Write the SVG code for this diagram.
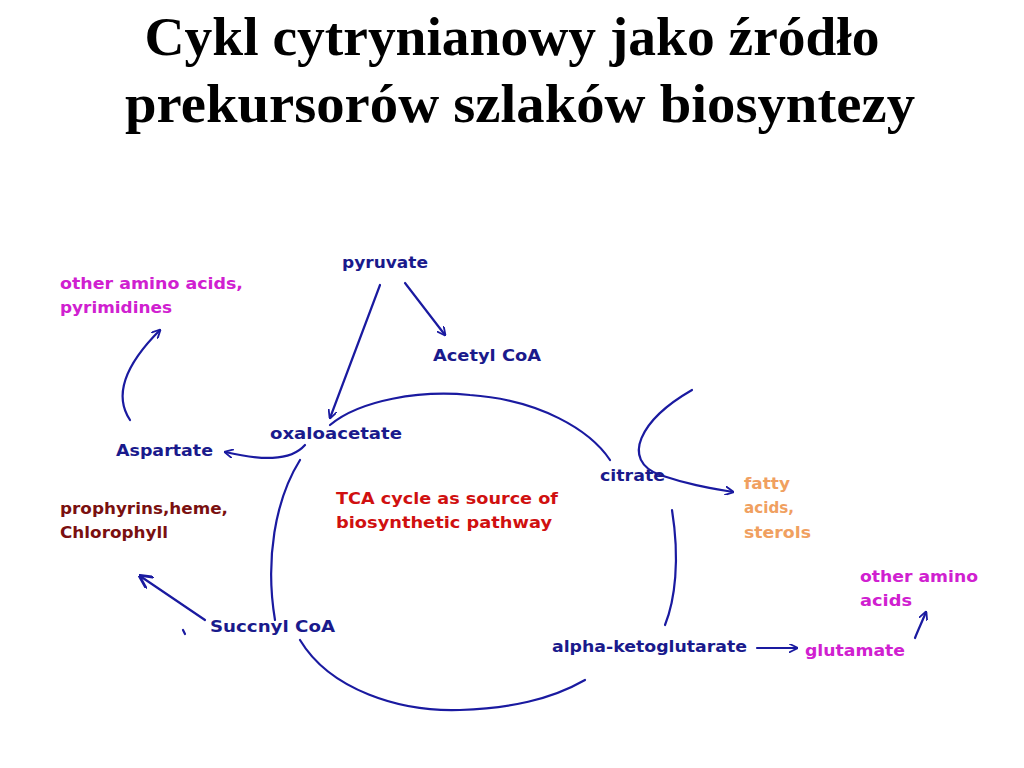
<svg xmlns="http://www.w3.org/2000/svg" width="1024" height="768" viewBox="0 0 1024 768">
<style>
.t{font-family:"Liberation Serif",serif;font-weight:bold;font-size:55px;fill:#000;text-anchor:middle}
.l{font-family:"DejaVu Sans","Liberation Sans",sans-serif;font-weight:bold;font-size:15px}
.b{fill:#1a1a8c}.m{fill:#d020d0}.r{fill:#d01010}.o{fill:#f0a060}.d{fill:#7a1010}
.c{fill:none;stroke:#1a1aa0;stroke-width:2.2;stroke-linecap:round}
</style>
<defs><marker id="a" viewBox="0 0 10 10" refX="9" refY="5" markerWidth="9" markerHeight="9" orient="auto" markerUnits="userSpaceOnUse"><path d="M0,0 L10,5 L0,10" fill="none" stroke="#1a1aa0" stroke-width="2"/></marker>
<marker id="a2" viewBox="0 0 10 10" refX="9" refY="5" markerWidth="14" markerHeight="14" orient="auto" markerUnits="userSpaceOnUse"><path d="M0,0 L10,5 L0,10" fill="none" stroke="#1a1aa0" stroke-width="2"/></marker></defs>
<rect width="1024" height="768" fill="#fff"/>
<text class="t" x="512" y="55" textLength="735" lengthAdjust="spacingAndGlyphs">Cykl cytrynianowy jako źródło</text>
<text class="t" x="520" y="122" textLength="790" lengthAdjust="spacingAndGlyphs">prekursorów szlaków biosyntezy</text>
<g id="connectors">
<path class="c" d="M330,425 C360,400 420,390 470,395 C540,400 590,430 610,460"/>
<path class="c" d="M300,460 C275,500 265,560 275,620"/>
<path class="c" d="M300,640 C330,690 400,712 460,710 C510,708 550,700 585,680"/>
<path class="c" d="M672,510 C680,560 675,600 665,625"/>
<path class="c" d="M380,285 L330,418" marker-end="url(#a)"/>
<path class="c" d="M405,283 L445,335" marker-end="url(#a)"/>
<path class="c" d="M305,445 C290,462 260,460 225,452" marker-end="url(#a)"/>
<path class="c" d="M130,420 C110,390 135,355 160,330" marker-end="url(#a)"/>
<path class="c" d="M692,390 C640,420 620,460 660,475 C690,485 710,488 733,492" marker-end="url(#a)"/>
<path class="c" d="M205,620 L140,576" marker-end="url(#a2)"/>
<path class="c" d="M183,630 L185,634"/>
<path class="c" d="M757,648 L797,648" marker-end="url(#a)"/>
<path class="c" d="M915,638 C918,630 922,622 926,612" marker-end="url(#a)"/>
</g>
<g id="pyruvate"><text class="l b" x="342" y="268" textLength="86" lengthAdjust="spacingAndGlyphs">pyruvate</text></g>
<g id="acetyl"><text class="l b" x="433" y="361" textLength="108" lengthAdjust="spacingAndGlyphs">Acetyl CoA</text></g>
<g id="other1"><text class="l m" x="60" y="289" textLength="183" lengthAdjust="spacingAndGlyphs">other amino acids,</text><text class="l m" x="60" y="313" textLength="112" lengthAdjust="spacingAndGlyphs">pyrimidines</text></g>
<g id="oxalo"><text class="l b" x="270" y="439" textLength="132" lengthAdjust="spacingAndGlyphs">oxaloacetate</text></g>
<g id="aspartate"><text class="l b" x="116" y="456" textLength="97" lengthAdjust="spacingAndGlyphs">Aspartate</text></g>
<g id="citrate"><text class="l b" x="600" y="481" textLength="65" lengthAdjust="spacingAndGlyphs">citrate</text></g>
<g id="fatty"><text class="l o" x="744" y="489" textLength="46" lengthAdjust="spacingAndGlyphs">fatty</text><text class="l o" x="744" y="513" textLength="50" lengthAdjust="spacingAndGlyphs">acids,</text><text class="l o" x="744" y="538" textLength="67" lengthAdjust="spacingAndGlyphs">sterols</text></g>
<g id="tca"><text class="l r" x="336" y="504" textLength="222" lengthAdjust="spacingAndGlyphs">TCA cycle as source of</text><text class="l r" x="336" y="528" textLength="216" lengthAdjust="spacingAndGlyphs">biosynthetic  pathway</text></g>
<g id="prophyrins"><text class="l d" x="60" y="514" textLength="168" lengthAdjust="spacingAndGlyphs">prophyrins,heme,</text><text class="l d" x="60" y="538" textLength="108" lengthAdjust="spacingAndGlyphs">Chlorophyll</text></g>
<g id="succinyl"><text class="l b" x="210" y="632" textLength="125" lengthAdjust="spacingAndGlyphs">Succnyl  CoA</text></g>
<g id="akg"><text class="l b" x="552" y="652" textLength="195" lengthAdjust="spacingAndGlyphs">alpha-ketoglutarate</text></g>
<g id="glutamate"><text class="l m" x="805" y="656" textLength="100" lengthAdjust="spacingAndGlyphs">glutamate</text></g>
<g id="other2"><text class="l m" x="860" y="582" textLength="118" lengthAdjust="spacingAndGlyphs">other amino</text><text class="l m" x="860" y="606" textLength="52" lengthAdjust="spacingAndGlyphs">acids</text></g>
</svg>
